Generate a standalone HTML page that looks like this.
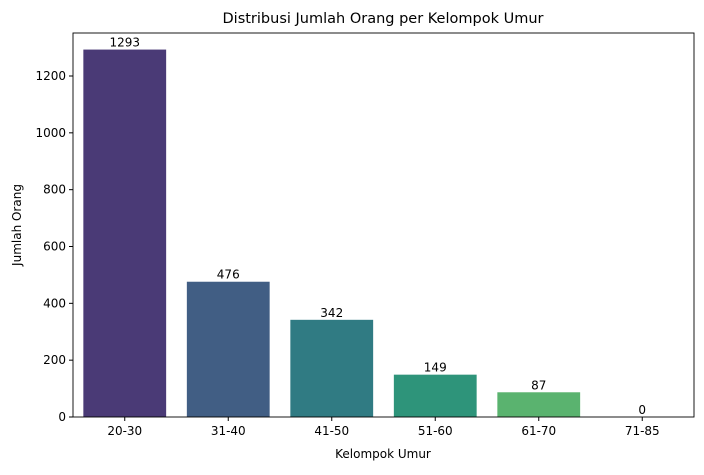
<!DOCTYPE html>
<html><head><meta charset="utf-8"><style>
body{margin:0;background:#fff;font-family:"Liberation Sans","DejaVu Sans",sans-serif;}
svg text{font-family:"DejaVu Sans","Liberation Sans",sans-serif;}
</style></head><body>
<svg id="chart" width="704" height="470">
<text x="383" y="23" font-size="14.5" text-anchor="middle">Distribusi Jumlah Orang per Kelompok Umur</text>
<text x="383" y="458" font-size="12" text-anchor="middle">Kelompok Umur</text>
<text transform="translate(21,225) rotate(-90)" font-size="12" text-anchor="middle">Jumlah Orang</text>
<g id="plot"></g>
<rect x="73" y="33" width="621" height="384" fill="none" stroke="#000" stroke-width="0.9"/>
</svg>
<script>
const categories=["20-30","31-40","41-50","51-60","61-70","71-85"];
const values=[1293,476,342,149,87,0];
const yTicks=[0,200,400,600,800,1000,1200];
const colors=["#4a3a76","#415e84","#307b83","#2e947a","#5ab36f","#9fd45a"];
const L=73,R=694,T=33,B=417;
const step=(R-L)/categories.length;
const x=i=>L+step*(i+0.5);
const y=v=>B-v*(341/1200);
const g=document.getElementById('plot');
const NS="http://www.w3.org/2000/svg";
function mk(t,a){const e=document.createElementNS(NS,t);for(const k in a)e.setAttribute(k,a[k]);g.appendChild(e);return e;}
yTicks.forEach(t=>{
 const l=mk('line',{x1:L-4,x2:L,y1:y(t),y2:y(t),stroke:'#000'});
 
 
 const tx=mk('text',{x:L-7,y:y(t)+4,'font-size':12,'text-anchor':'end'});tx.textContent=t;
 
 
});
categories.forEach((c,i)=>{
 const w=step*0.8;
 const r=mk('rect',{x:x(i)-w/2,y:y(values[i]),width:w,height:B-y(values[i]),fill:colors[i]});
 
 
 const v=mk('text',{x:x(i),y:y(values[i])-3,'font-size':12,'text-anchor':'middle'});v.textContent=values[i];
 
 
 const tk=mk('line',{x1:x(i),x2:x(i),y1:B,y2:B+4,stroke:'#000'});
 
 
 const t=mk('text',{x:x(i),y:B+18,'font-size':12,'text-anchor':'middle'});t.textContent=c;
 
 
});
</script>
</body></html>
